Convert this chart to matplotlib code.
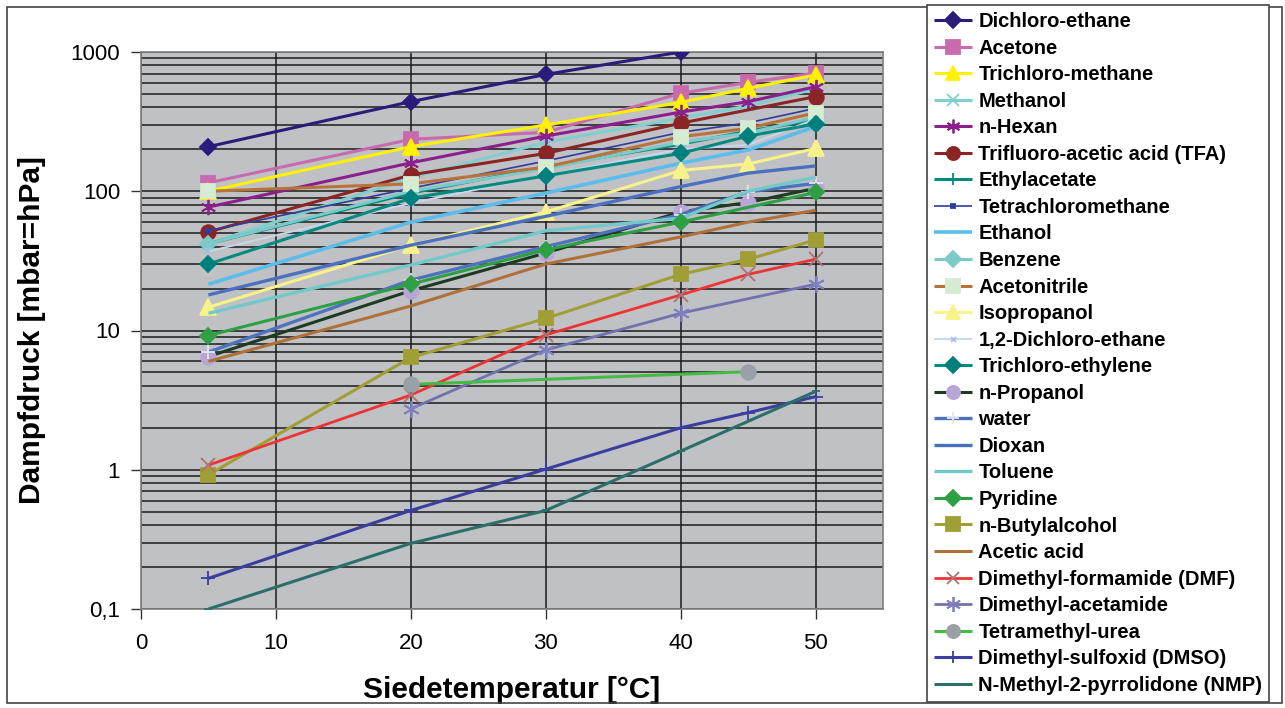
import numpy as np
import matplotlib
matplotlib.use('Agg')
import matplotlib.pyplot as plt
from matplotlib.ticker import FixedLocator, FuncFormatter, NullFormatter
from matplotlib.patches import Rectangle

plt.rcParams['font.family'] = ['Liberation Sans', 'DejaVu Sans']

# Siedetemperatur [°C]
temps = [5, 20, 30, 40, 45, 50]
N = None

# Dampfdruck [mbar=hPa] (None = no point)
dichloroethane = [209, 440, 690, 1000, N, N]
acetone = [115, 236, 265, 505, 605, 705]
trichloromethane = [100, 209, 299, 435, 548, 684]
methanol = [42, 125, 225, 335, 410, 545]
n_hexan = [77, 160, 249, 370, 440, 563]
tfa = [51, 131, 187, 308, N, 478]
ethylacetate = [42, 97, 150, 218, 270, 325]
tetrachloromethane = [52, 105, 165, 265, 310, 394]
ethanol = [21.5, 60, 97, 159, 198, 291]
benzene = [42, 100, 145, 225, 262, 340]
acetonitrile = [100, 113, 149, 246, 283, 366]
isopropanol = [14.7, 41, 71, 141, 157, 203]
dichloroethane_12 = [37, 82, 130, 200, 215, 330]
trichloroethylene = [30, 89, 129, 187, 249, 304]
n_propanol = [6.5, 19.3, 36, 71, 83, 105]
water = [7.0, 23, 40, 68, 99, 114]
dioxan = [18, 41, 66, 108, 135, 152]
toluene = [13.3, 29.5, 52, 64, 100, 126]
pyridine = [9.2, 21.5, 38, 60, N, 98]
n_butylalcohol = [0.92, 6.4, 12.2, 25.3, 32.5, 44.7]
acetic_acid = [6.0, 15, 30, 47, 60, 73]
dmf = [1.08, 3.44, 9.3, 18, 25.3, 32.5]
dmac = [N, 2.74, 7.24, 13.3, N, 21.5]
tetramethylurea = [N, 4.1, N, N, 5.06, N]
dmso = [0.166, 0.51, 1.01, 2.0, 2.57, 3.35]
nmp = [0.1, 0.296, 0.51, 1.36, N, 3.65]

names = ['Dichloro-ethane', 'Acetone', 'Trichloro-methane', 'Methanol', 'n-Hexan',
         'Trifluoro-acetic acid (TFA)', 'Ethylacetate', 'Tetrachloromethane', 'Ethanol',
         'Benzene', 'Acetonitrile', 'Isopropanol', '1,2-Dichloro-ethane',
         'Trichloro-ethylene', 'n-Propanol', 'water', 'Dioxan', 'Toluene', 'Pyridine',
         'n-Butylalcohol', 'Acetic acid', 'Dimethyl-formamide (DMF)', 'Dimethyl-acetamide',
         'Tetramethyl-urea', 'Dimethyl-sulfoxid (DMSO)', 'N-Methyl-2-pyrrolidone (NMP)']
series = [dichloroethane, acetone, trichloromethane, methanol, n_hexan, tfa, ethylacetate,
          tetrachloromethane, ethanol, benzene, acetonitrile, isopropanol, dichloroethane_12,
          trichloroethylene, n_propanol, water, dioxan, toluene, pyridine, n_butylalcohol,
          acetic_acid, dmf, dmac, tetramethylurea, dmso, nmp]

ast = (6, 2, 0)
# line colour, marker, marker colour, marker size, line width
styles = [
    ('#2b1b7a', 'D', '#2b1b7a', 8.5, 2.2),
    ('#c96aae', 's', '#c96aae', 10.5, 2.2),
    ('#fff200', '^', '#fff200', 11.5, 2.2),
    ('#80cfcf', 'x', '#80cfcf', 9, 2.2),
    ('#8b1f8b', ast, '#8b1f8b', 11, 2.2),
    ('#8b2525', 'o', '#8b2525', 10.5, 2.2),
    ('#008b80', '+', '#008b80', 10, 2.2),
    ('#2f3e9e', 's', '#2f3e9e', 3, 1.2),
    ('#5bbdeb', None, None, 0, 2.6),
    ('#7cc9c9', 'D', '#7cc9c9', 8.5, 2.2),
    ('#b8733a', 's', '#d6ecd2', 10.5, 2.2),
    ('#f7f28a', '^', '#f7f28a', 11.5, 2.2),
    ('#c4d7ee', 'x', '#a8c0e0', 4, 1.4),
    ('#008b80', 'D', '#007f7f', 8.5, 2.2),
    ('#1e3a22', 'o', '#b8a6d6', 10.5, 2.2),
    ('#4d72be', '+', '#e6e6f2', 10, 2.4),
    ('#4a71c0', None, None, 0, 2.4),
    ('#72c9c9', None, None, 0, 2.4),
    ('#2ea043', 'D', '#2ea043', 8.5, 2.2),
    ('#a09e34', 's', '#a09e34', 10.5, 2.2),
    ('#b0703a', None, None, 0, 2.2),
    ('#ee3333', 'x', '#b07070', 10, 2.0),
    ('#7272b0', ast, '#8080c0', 12, 2.0),
    ('#44bb44', 'o', '#99a0a8', 10.5, 2.2),
    ('#3a3f9f', '+', '#3a3f9f', 10, 2.2),
    ('#2a7068', '_', '#2a7068', 6, 2.2),
]

fig = plt.figure(figsize=(12.85, 7.08), dpi=100)
ax = fig.add_axes([141 / 1285, 99 / 708, 742 / 1285, 557 / 708])
ax.set_facecolor('#c0c1c5')

handles = []
for vals, (lc, mk, mc, ms, lw) in zip(series, styles):
    x = np.array(temps, dtype=float)
    y = np.array([np.nan if v is None else v for v in vals], dtype=float)
    ok = ~np.isnan(y)
    h, = ax.plot(x[ok], y[ok], color=lc, lw=lw, marker=mk, markersize=ms,
                 markerfacecolor=mc, markeredgecolor=mc, markeredgewidth=1.3,
                 solid_capstyle='butt', zorder=3)
    handles.append(h)

ax.set_yscale('log')
ax.set_xlim(0, 55)
ax.set_ylim(0.1, 1000)
ax.xaxis.set_major_locator(FixedLocator([0, 10, 20, 30, 40, 50]))
ax.yaxis.set_major_locator(FixedLocator([0.1, 1, 10, 100, 1000]))
minor = [m * 10.0 ** e for e in range(-1, 3) for m in range(2, 10)]
ax.yaxis.set_minor_locator(FixedLocator(minor))
ax.yaxis.set_minor_formatter(NullFormatter())
ax.yaxis.set_major_formatter(FuncFormatter(lambda v, p: ('%g' % v).replace('.', ',')))
ax.grid(True, which='major', axis='both', color='#1a1a1a', lw=1.1, zorder=1)
ax.grid(True, which='minor', axis='y', color='#1a1a1a', lw=1.1, zorder=1)
ax.set_axisbelow(True)
ax.tick_params(axis='both', which='major', direction='out', length=7, width=1,
               color='#333333', labelsize=16, pad=8)
ax.tick_params(axis='x', which='major', pad=10)
ax.tick_params(axis='y', which='minor', length=0)
for s in ax.spines.values():
    s.set_color('#808080')
    s.set_linewidth(1.2)

ax.set_xlabel('Siedetemperatur [°C]', fontsize=21.5, fontweight='bold', labelpad=16)
ax.set_ylabel('Dampfdruck [mbar=hPa]', fontsize=21.5, fontweight='bold', labelpad=18)

leg = fig.legend(handles, names, loc='upper left', bbox_to_anchor=(927 / 1285, 1 - 5 / 708),
                 frameon=True, fancybox=False, edgecolor='#444444', framealpha=1,
                 prop=dict(weight='bold', size=14.5), handlelength=1.9, handletextpad=0.3,
                 labelspacing=0.375, borderpad=0.35, borderaxespad=0, markerscale=0.9)
leg.get_frame().set_linewidth(1.2)

fig.patches.append(Rectangle((7 / 1285, 5 / 708), 1 - 10 / 1285, 1 - 12 / 708,
                             transform=fig.transFigure, fill=False, ec='#444444', lw=1.2))

fig.savefig('out.png', dpi=100)
